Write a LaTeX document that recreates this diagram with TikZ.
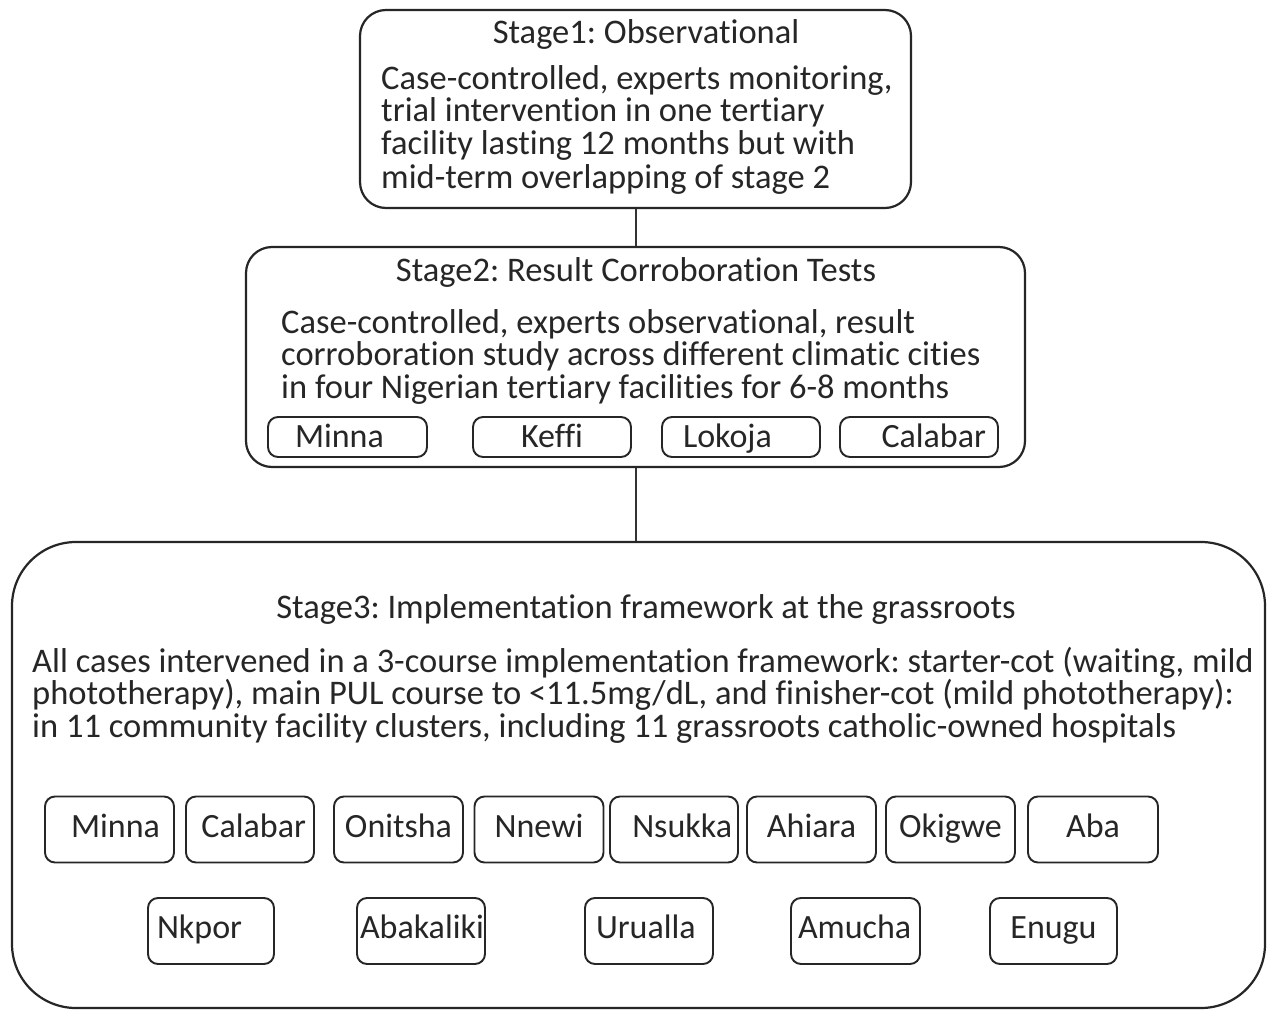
\documentclass[tikz,border=0pt]{standalone}
\usepackage{fontspec}
\setmainfont{Carlito}[Ligatures={NoCommon}]
\begin{document}
\frenchspacing
\begin{tikzpicture}[x=1pt,y=-1pt,
  stagebox/.style={draw=black!85, line width=2.2pt, rounded corners=26pt, inner sep=0pt},
  bigbox/.style={draw=black!85, line width=2.2pt, rounded corners=64pt, inner sep=0pt},
  citybox/.style={draw=black!85, line width=1.9pt, rounded corners=10pt, inner ysep=0pt,
    text height=22pt, text depth=7pt, font=\fontsize{34}{35}\selectfont, text=black!85},
  smallcity/.style={citybox, text depth=1pt},
  txt/.style={inner sep=0pt, font=\fontsize{34.5}{36}\selectfont, text=black!85},
  link/.style={draw=black!80, line width=2pt}]
\useasboundingbox (0,0) rectangle (1280,1030);
\fill[white] (0,0) rectangle (1280,1030);

% Stage 1
\node[stagebox, minimum width=551pt, minimum height=198pt] (s1) at (635.5,109) {};
\node[txt, anchor=base] (s1t) at (646,44) {Stage1: Observational};
\node[txt, anchor=base west] (s1a) at (381,90) {Case-controlled, experts monitoring,};
\node[txt, anchor=base west] (s1b) at (381,122) {trial intervention in one tertiary};
\node[txt, anchor=base west] (s1c) at (381,155) {facility lasting 12 months but with};
\node[txt, anchor=base west] (s1d) at (381,188) {mid-term overlapping of stage 2};

% Stage 2
\node[stagebox, minimum width=779pt, minimum height=220pt] (s2) at (635.5,357) {};
\node[txt, anchor=base] (s2t) at (636,281) {Stage2: Result Corroboration Tests};
\node[txt, anchor=base west] (s2a) at (281,333) {Case-controlled, experts observational, result};
\node[txt, anchor=base west] (s2b) at (281,365) {corroboration study across different climatic cities};
\node[txt, anchor=base west] (s2c) at (281,398) {in four Nigerian tertiary facilities for 6-8 months};

\node[smallcity, minimum width=159pt, minimum height=40pt, inner xsep=27pt, text width=105pt, align=left] (c2a) at (347.5,437) {Minna};
\node[smallcity, minimum width=158pt, minimum height=40pt, inner xsep=4pt, text width=150pt, align=center] (c2b) at (552,437) {Keffi};
\node[smallcity, minimum width=158pt, minimum height=40pt, inner xsep=21pt, text width=116pt, align=left] (c2c) at (741,437) {Lokoja};
\node[smallcity, minimum width=158pt, minimum height=40pt, inner xsep=12pt, text width=134pt, align=right] (c2d) at (919,437) {Calabar};

% Stage 3
\node[bigbox, minimum width=1253pt, minimum height=466pt] (s3) at (638.5,775) {};
\node[txt, anchor=base] (s3t) at (646,618) {Stage3: Implementation framework at the grassroots};
\node[txt, anchor=base west] (s3a) at (32,672) {All cases intervened in a 3-course implementation framework: starter-cot (waiting, mild};
\node[txt, anchor=base west] (s3b) at (32,704) {phototherapy), main PUL course to <11.5mg/dL, and finisher-cot (mild phototherapy):};
\node[txt, anchor=base west] (s3c) at (32,737) {in 11 community facility clusters, including 11 grassroots catholic-owned hospitals};

% Row 1
\node[citybox, minimum width=129pt, minimum height=66pt, inner xsep=2pt, text width=125pt, align=center] (r1a) at (109.5,829.5) {\hspace*{12pt}Minna};
\node[citybox, minimum width=128pt, minimum height=66pt, inner xsep=8pt, text width=112pt, align=right] (r1b) at (250,829.5) {Calabar};
\node[citybox, minimum width=129pt, minimum height=66pt, inner xsep=2pt, text width=125pt, align=center] (r1c) at (398.5,829.5) {Onitsha};
\node[citybox, minimum width=129pt, minimum height=66pt, inner xsep=2pt, text width=125pt, align=center] (r1d) at (539,829.5) {Nnewi};
\node[citybox, minimum width=128pt, minimum height=66pt, inner xsep=6pt, text width=116pt, align=right] (r1e) at (674,829.5) {Nsukka};
\node[citybox, minimum width=129pt, minimum height=66pt, inner xsep=2pt, text width=125pt, align=center] (r1f) at (811.5,829.5) {Ahiara};
\node[citybox, minimum width=129pt, minimum height=66pt, inner xsep=2pt, text width=125pt, align=center] (r1g) at (950.5,829.5) {Okigwe};
\node[citybox, minimum width=130pt, minimum height=66pt, inner xsep=2pt, text width=126pt, align=center] (r1h) at (1093,829.5) {Aba};

% Row 2
\node[citybox, minimum width=126pt, minimum height=66pt, inner xsep=9pt, text width=108pt, align=left] (r2a) at (211,931) {Nkpor};
\node[citybox, minimum width=128pt, minimum height=66pt, inner xsep=3pt, text width=122pt, align=left] (r2b) at (421,931) {Abakaliki};
\node[citybox, minimum width=128pt, minimum height=66pt, inner xsep=11pt, text width=106pt, align=left] (r2c) at (649,931) {Urualla};
\node[citybox, minimum width=129pt, minimum height=66pt, inner xsep=7pt, text width=115pt, align=left] (r2d) at (855.5,931) {Amucha};
\node[citybox, minimum width=127pt, minimum height=66pt, inner xsep=2pt, text width=123pt, align=center] (r2e) at (1053.5,931) {Enugu};

% Connectors
\draw[link] (s1.south) -- (s2.north);
\draw[link] (s2.south) -- (s2.south |- s3.north);
\end{tikzpicture}
\end{document}
